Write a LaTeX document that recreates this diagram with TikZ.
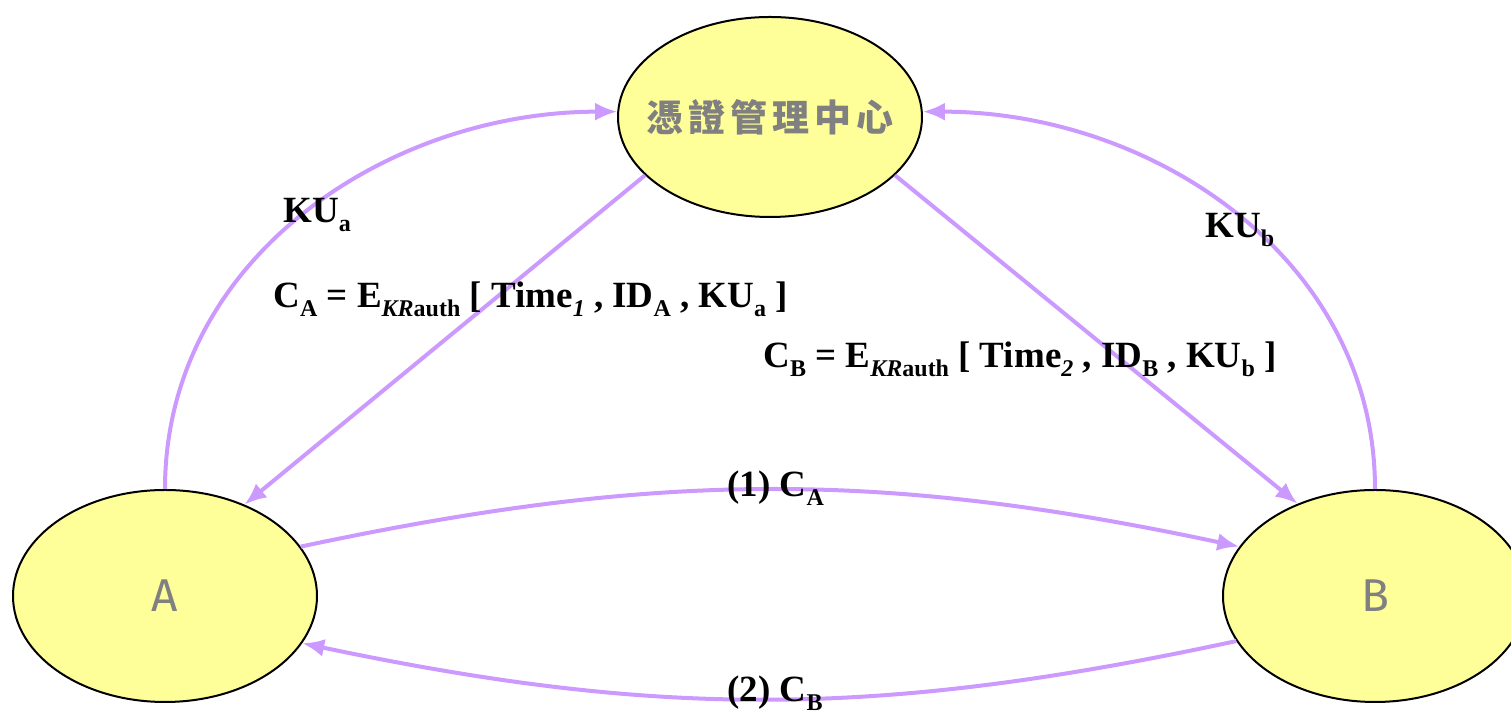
\documentclass[tikz,border=0pt]{standalone}
\usepackage{fontspec}
\setmainfont{Liberation Serif}
\newfontfamily\cjkfont[LetterSpace=14]{Noto Sans CJK TC}
\newfontfamily\handfont{Fira Sans}
\usetikzlibrary{shapes.geometric,arrows.meta}
\definecolor{ellfill}{HTML}{FFFF99}
\definecolor{flowline}{HTML}{CC99FF}
\definecolor{txtgray}{HTML}{808080}
\newcommand{\lo}[1]{\raisebox{-4.5pt}{\fontsize{12}{14}\selectfont #1}}

\begin{document}
\begin{tikzpicture}[x=0.5pt, y=0.5pt, >={Latex[length=11pt,width=9pt]}]
        \tikzset{
            ell/.style ={draw, ellipse, fill=ellfill, line width=1pt, inner sep=0pt,
                         minimum width=152pt, minimum height=106pt},
            flow/.style={draw=flowline, line width=2pt, ->},
            lbl/.style ={font=\bfseries\fontsize{18.5}{22}\selectfont, anchor=base west, inner sep=0pt}
        }
        \useasboundingbox (0,0) rectangle (1511,722);
        %% ---- Nodos ----
        \node[ell, minimum height=100pt,
              label={[font=\cjkfont\bfseries\fontsize{18.5}{20}\selectfont, text=txtgray]center:憑證管理中心}]
              (ca) at (770,605) {};
        \node[ell, label={[font=\handfont\fontsize{23}{24}\selectfont, text=txtgray]center:A}]
              (a) at (165,126) {};
        \node[ell, label={[font=\handfont\fontsize{23}{24}\selectfont, text=txtgray]center:B}]
              (b) at (1375,126) {};
        %% ---- Registro de claves ----
        \draw[flow] (a.north) to[out=90, in=180] (ca.178);
        \draw[flow] (b.north) to[out=90, in=0] (ca.2);
        \node[lbl] (kua) at (283,499) {KU\lo{a}};
        \node[lbl] (kub) at (1205,484) {KU\lo{b}};
        %% ---- Certificados ----
        \draw[flow] (ca.205) -- (a.49);
        \draw[flow] (ca.-25) -- (b.130);
        \node[lbl] (certa) at (273,414)
            {C\lo{A} = E\lo{\textit{KR}auth} [ Time\lo{\textit{1}} , ID\lo{A} , KU\lo{a} ]};
        \node[lbl] (certb) at (763,354)
            {C\lo{B} = E\lo{\textit{KR}auth} [ Time\lo{\textit{2}} , ID\lo{B} , KU\lo{b} ]};
        %% ---- Intercambio ----
        \draw[flow] (a.20) to[bend left=12] (b.160);
        \node[lbl] (step1) at (727,225) {(1) C\lo{A}};
        \draw[flow] (b.198) to[bend left=12] (a.-19);
        \node[lbl] (step2) at (727,20) {(2) C\lo{B}};
    \end{tikzpicture}
\end{document}
